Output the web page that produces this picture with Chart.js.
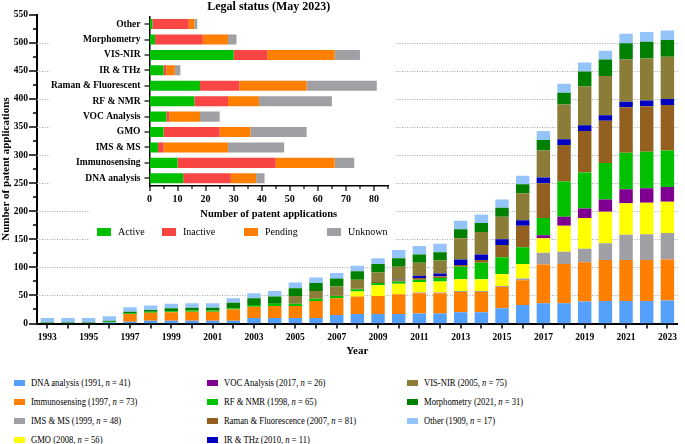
<!DOCTYPE html>
<html>
<head>
<meta charset="utf-8">
<script src="https://cdn.jsdelivr.net/npm/chart.js@4.4.0/dist/chart.umd.min.js"></script>
<style>
  body { margin: 0; background: #fff; }
  #wrap { position: relative; width: 685px; height: 444px; font-family: 'Liberation Serif', serif; color: #000; }
  #main { position: absolute; left: 0; top: 0; }
  #inset { position: absolute; left: 40px; top: 0; }
  .lg { position: absolute; display: grid; white-space: nowrap; }
  .lg .it { display: flex; align-items: center; }
  .lg .bx { display: inline-block; flex: none; }
  #legend { left: 14px; top: 373px; grid-template-columns: 193px 200px auto; grid-template-rows: repeat(4, 19px); grid-auto-flow: column; font-size: 10px; }
  #legend .bx { width: 11px; height: 6px; margin-right: 6px; }
  #legend .tx { display: inline-block; transform: scaleX(0.86); transform-origin: left center; }
  #insetLegend { left: 97px; top: 226px; grid-template-columns: 65px 82px 83px auto; font-size: 10px; }
  #insetLegend .bx { width: 14px; height: 8px; margin-right: 7px; }
</style>
</head>
<body>
<div id="wrap">
  <canvas id="main" width="685" height="360"></canvas>
  <canvas id="inset" width="355" height="246"></canvas>
  <div id="insetLegend" class="lg"></div>
  <div id="legend" class="lg"></div>
</div>
<script>
'use strict'

const FONT = 'Liberation Serif'

// cumulative number of patent applications per technique
const years = ['1993','1994','1995','1996','1997','1998','1999','2000','2001','2002','2003','2004','2005','2006','2007','2008',
               '2009','2010','2011','2012','2013','2014','2015','2016','2017','2018','2019','2020','2021','2022','2023']

const dna    = [0,0,0,2,3,5,5,5,5,5,10,10,10,10,15,17,17,17,18,18,20,20,27,33,36,36,39,40,40,40,41]
const immuno = [0,0,0,0,14,14,15,16,16,20,20,21,21,30,30,31,32,35,36,36,36,36,38,44,69,70,70,73,73,73,73]
const imsMs  = [0,0,0,0,0,0,0,0,0,0,0,0,0,0,0,0,0,0,1,1,2,2,2,3,21,22,24,30,45,46,47]
const gmo    = [0,0,0,0,0,0,0,0,0,0,0,0,0,0,0,9,19,19,19,20,21,21,21,26,26,46,55,56,56,56,56]
const voc    = [0,0,0,0,0,0,0,0,0,0,0,0,0,0,0,0,0,0,0,0,0,0,0,0,5,16,17,22,25,26,26]
const rfNmr  = [0,0,0,1,1,2,2,2,2,2,3,4,4,4,4,4,4,4,4,6,22,29,30,30,31,63,64,65,65,65,65]
const raman  = [0,0,0,0,0,0,0,0,0,0,0,0,0,0,1,1,2,2,3,3,3,5,22,38,62,65,74,75,81,81,81]
const irThz  = [0,0,0,0,0,0,0,0,0,0,0,0,0,0,0,0,0,1,4,5,10,10,10,10,10,10,10,10,10,10,11]
const visNir = [0,0,0,0,0,0,0,0,0,0,0,0,14,14,16,16,17,23,23,23,38,40,40,48,48,62,69,70,75,75,75]
const morpho = [2,2,2,2,3,3,5,5,5,10,12,13,14,14,14,15,15,15,15,15,16,16,16,16,19,21,27,29,29,30,30]
const other  = [8,8,8,8,8,8,8,8,8,8,9,10,10,10,10,10,10,15,15,15,15,15,15,15,16,16,16,16,17,17,17]

const seriesNames  = ['DNA analysis','Immunosensing','IMS & MS','GMO','VOC Analysis','RF & NMR',
                      'Raman & Fluorescence','IR & THz','VIS-NIR','Morphometry','Other']
const seriesFirst  = [1991, 1997, 1999, 2008, 2017, 1998, 2007, 2010, 2005, 2021, 1909]
const seriesN      = [41, 73, 48, 56, 26, 65, 81, 11, 75, 31, 17]
const seriesData   = [dna, immuno, imsMs, gmo, voc, rfNmr, raman, irThz, visNir, morpho, other]
const seriesColors = ['#55a0fa','#ff8000','#a0a0a4','#ffff00','#7f0090','#00c000',
                      '#93601f','#0000c0','#8b7d38','#008000','#94c4fa']

// inset: legal status (May 2023)
const statusCats = ['Other','Morphometry','VIS-NIR','IR & THz','Raman & Fluorescent','RF & NMR',
                    'VOC Analysis','GMO','IMS & MS','Immunosensing','DNA analysis']
const active   = [1, 2, 30, 5, 18, 16, 6, 5, 3, 10, 12]
const inactive = [13, 17, 12, 1, 14, 12, 1, 20, 2, 35, 17]
const pending  = [2, 9, 24, 3, 24, 11, 11, 11, 23, 21, 9]
const unknown  = [1, 3, 9, 2, 25, 26, 7, 20, 20, 7, 3]
const statusNames  = ['Active','Inactive','Pending','Unknown']
const statusData   = [active, inactive, pending, unknown]
const statusColors = ['#00c000','#fa4545','#ff8000','#a0a0a4']


// tick marks drawn by hand so that major / minor ticks can differ in length
function drawTickMarks(chart, list) {
    let ctx = chart.ctx
    ctx.save()
    ctx.strokeStyle = '#000'
    list.forEach(t => {
        let s = chart.scales[t.scale]
        ctx.lineWidth = t.width
        t.values.forEach(v => {
            let len = t.isMajor(v) ? t.major : t.minor
            let p = Math.round(s.getPixelForValue(v))
            ctx.beginPath()
            if (s.isHorizontal()) {
                ctx.moveTo(p, s.top)
                ctx.lineTo(p, s.top + len)
            } else {
                ctx.moveTo(s.right, p)
                ctx.lineTo(s.right - len, p)
            }
            ctx.stroke()
        })
    })
    ctx.restore()
}

function steps(from, to, step) {
    let out = []
    for (let v = from; v <= to; v += step) out.push(v)
    return out
}

const mainDecor = {
    id: 'mainDecor',
    beforeDatasetsDraw(chart) {
        let {ctx, chartArea, scales} = chart
        ctx.save()
        ctx.strokeStyle = '#a8a8a8'
        ctx.lineWidth = 1
        ctx.setLineDash([1, 1.5])
        steps(50, 500, 50).forEach(v => {
            let y = Math.round(scales.y.getPixelForValue(v)) + 0.5
            ctx.beginPath()
            ctx.moveTo(chartArea.left, y)
            ctx.lineTo(chartArea.right, y)
            ctx.stroke()
        })
        ctx.restore()
    },
    afterDraw(chart) {
        drawTickMarks(chart, [
            {scale: 'y', values: steps(0, 550, 25), isMajor: v => v % 50 === 0, major: 8, minor: 4, width: 1.5},
            {scale: 'x', values: years.map((y, i) => i), isMajor: () => true, major: 5, minor: 5, width: 1.5}
        ])
    }
}

const insetDecor = {
    id: 'insetDecor',
    beforeDraw(chart) {
        let {ctx, width, height} = chart
        ctx.save()
        ctx.fillStyle = '#fff'
        ctx.fillRect(10, 0, width - 10, 195)
        ctx.fillRect(50, 195, width - 50, height - 195)
        ctx.restore()
    },
    afterDraw(chart) {
        drawTickMarks(chart, [
            {scale: 'x', values: steps(0, 85, 5), isMajor: v => v % 10 === 0, major: 5, minor: 3, width: 1.2},
            {scale: 'y', values: statusCats.map((c, i) => i), isMajor: () => true, major: 5, minor: 5, width: 1.2}
        ])
    }
}

const axisFont = (size, weight) => ({family: FONT, size: size, weight: weight})

new Chart(document.querySelector('#main'), {
    type: 'bar',
    data: {
        labels: years,
        datasets: seriesNames.map((name, i) => ({
            label: name,
            data: seriesData[i],
            backgroundColor: seriesColors[i],
            borderWidth: 0,
            barPercentage: 0.65,
            categoryPercentage: 1
        }))
    },
    options: {
        responsive: false,
        animation: false,
        layout: {autoPadding: false, padding: {top: 3, right: 7, left: 0, bottom: 0}},
        plugins: {legend: {display: false}, tooltip: {enabled: false}},
        scales: {
            x: {
                stacked: true,
                grid: {display: false, drawTicks: false},
                border: {color: '#000', width: 2},
                ticks: {
                    autoSkip: false, maxRotation: 0, padding: 8, color: '#000',
                    font: axisFont(9.5, 'bold'),
                    callback: (v, i) => Number(years[i]) % 2 === 1 ? years[i] : ''
                },
                title: {display: true, text: 'Year', color: '#000', font: axisFont(11, 'bold'), padding: {top: 2, bottom: 2}},
                afterFit: s => { s.height = 36.5 }
            },
            y: {
                stacked: true, min: 0, max: 550,
                grid: {display: false, drawTicks: false},
                border: {color: '#000', width: 2},
                ticks: {
                    stepSize: 25, autoSkip: false, padding: 9, color: '#000',
                    font: axisFont(9.5, 'bold'),
                    callback: v => v % 50 === 0 ? v : ''
                },
                title: {display: true, text: 'Number of patent applications', color: '#000',
                        font: axisFont(11, 'bold'), padding: {top: 0, bottom: 2}},
                afterFit: s => { s.width = 37 }
            }
        }
    },
    plugins: [mainDecor]
})

new Chart(document.querySelector('#inset'), {
    type: 'bar',
    data: {
        labels: statusCats,
        datasets: statusNames.map((name, i) => ({
            label: name,
            data: statusData[i],
            backgroundColor: statusColors[i],
            borderWidth: 0,
            barPercentage: 0.65,
            categoryPercentage: 1
        }))
    },
    options: {
        indexAxis: 'y',
        responsive: false,
        animation: false,
        layout: {autoPadding: false, padding: {top: 0, right: 2, left: 0, bottom: 25}},
        plugins: {
            legend: {display: false},
            tooltip: {enabled: false},
            title: {display: true, fullSize: false, text: 'Legal status (May 2023)', color: '#000',
                    font: axisFont(12, 'bold'), padding: {top: 0, bottom: 2}}
        },
        scales: {
            x: {
                stacked: true, min: 0, max: 85,
                grid: {display: false, drawTicks: false},
                border: {color: '#000', width: 1.5},
                ticks: {
                    stepSize: 5, autoSkip: false, maxRotation: 0, padding: 7, color: '#000',
                    font: axisFont(10, 'bold'),
                    callback: v => v % 10 === 0 && v <= 80 ? v : ''
                },
                title: {display: true, text: 'Number of patent applications', color: '#000',
                        font: axisFont(10.5, 'bold'), padding: {top: 3, bottom: 0}},
                afterFit: s => { s.height = 35 }
            },
            y: {
                stacked: true,
                grid: {display: false, drawTicks: false},
                border: {color: '#000', width: 1.5},
                ticks: {autoSkip: false, padding: 9, color: '#000', font: axisFont(9.5, 'bold')},
                afterFit: s => { s.width = 109.5 }
            }
        }
    },
    plugins: [insetDecor]
})

// html legends
function legendItem(color, html) {
    return `<div class="it"><span class="bx" style="background:${color}"></span><span class="tx">${html}</span></div>`
}

document.querySelector('#insetLegend').innerHTML =
    statusNames.map((n, i) => legendItem(statusColors[i], n)).join('')

document.querySelector('#legend').innerHTML =
    seriesNames.map((n, i) => legendItem(seriesColors[i],
        `${n} (${seriesFirst[i]}, <i>n</i> = ${seriesN[i]})`)).join('')
</script>
</body>
</html>
